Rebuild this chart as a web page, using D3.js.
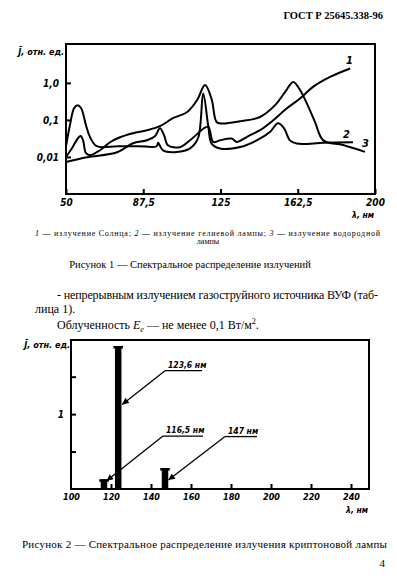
<!DOCTYPE html>
<html><head><meta charset="utf-8">
<script src="https://cdn.jsdelivr.net/npm/d3@7"></script>
<style>body{margin:0;background:#fff}svg{display:block}</style>
</head><body>
<svg id="c" width="397" height="587"></svg>
<script>
// ---------- Figure 1 data (wavelength nm, relative intensity) ----------
const sunNm  = [50, 60.2, 74.8, 82.5, 89.3, 93.2, 95.6, 97.6, 99.5, 105.3, 110.2, 114.1, 116.7, 119.1, 121.5, 124.8, 130.4, 132.9, 138.3, 144.2, 150.6, 157.1, 163.6, 169.9, 178.2, 187.9];
const sunVal = [0.0073, 0.0098, 0.0134, 0.0234, 0.0282, 0.0362, 0.0597, 0.0386, 0.0207, 0.0183, 0.0282, 0.0437, 0.0586, 0.0648, 0.0254, 0.0282, 0.0314, 0.0254, 0.036, 0.0527, 0.098, 0.203, 0.378, 0.78, 1.45, 2.45];
const heNm   = [50, 51.9, 53.9, 55.5, 57.3, 59.7, 61.7, 64.9, 75, 85, 94, 94.7, 97.1, 103.7, 110.2, 114.1, 116.6, 119.1, 120.7, 124.8, 134.5, 142.6, 149, 152.9, 155.8, 158.7, 162, 175, 189.3];
const heVal  = [0.0195, 0.072, 0.207, 0.25, 0.21, 0.072, 0.034, 0.0195, 0.0195, 0.0195, 0.0195, 0.024, 0.015, 0.0136, 0.017, 0.032, 0.52, 0.065, 0.023, 0.017, 0.0186, 0.028, 0.047, 0.081, 0.06, 0.028, 0.023, 0.024, 0.025];
const hNm    = [50, 52.9, 55.8, 57.1, 58.3, 59.7, 61.7, 66.5, 71.4, 76.2, 82.5, 89.3, 95.6, 101.9, 108.7, 113.6, 117.5, 120.7, 123.1, 125.7, 134.5, 144.2, 151.5, 156.3, 160.3, 163.6, 166.9, 170.9, 174.9, 184.5, 195.1];
const hVal   = [0.01, 0.0172, 0.032, 0.037, 0.028, 0.0126, 0.0111, 0.0152, 0.0249, 0.034, 0.0437, 0.0527, 0.0676, 0.111, 0.161, 0.34, 0.87, 0.36, 0.088, 0.08, 0.092, 0.12, 0.25, 0.56, 1.06, 0.64, 0.28, 0.087, 0.028, 0.021, 0.0137];
const fig1XTicks = [50, 87.5, 125, 162.5, 200];
const fig1XTickLabels = ["50", "87,5", "125", "162,5", "200"];
const fig1YTicks = [1, 0.1, 0.01];
const fig1YTickLabels = ["1,0", "0,1", "0,01"];
const curveNames = ["1", "2", "3"];

// ---------- Figure 2 data ----------
const krNm  = [116.5, 123.6, 147];
const krVal = [0.13, 1.91, 0.28];
const krLabels = ["116,5 нм", "123,6 нм", "147 нм"];
const fig2XTicks = [100, 120, 140, 160, 180, 200, 220, 240];
const fig2YTicks = [0.5, 1, 1.5];
const fig2YTickLabels = ["", "1", ""];

const svg = d3.select("#c");
const axFont = '"Liberation Sans Narrow","DejaVu Sans Condensed","Liberation Sans",sans-serif';
const serif = '"Liberation Serif","DejaVu Serif",serif';

svg.append("text").attr("x", 383).attr("y", 19).attr("text-anchor", "end")
  .attr("font-family", serif).attr("font-weight", "bold").attr("font-size", 10.5)
  .text("ГОСТ Р 25645.338-96");

// ---------- Figure 1 ----------
const x1 = d3.scaleLinear().domain([50, 200]).range([66, 375]);
const y1 = d3.scaleLog().domain([0.001, 11.2]).range([194, 44]);
const g1 = svg.append("g");
g1.append("rect").attr("x", 66).attr("y", 44).attr("width", 309).attr("height", 150)
  .attr("fill", "none").attr("stroke", "#000").attr("stroke-width", 2);

const line1 = d3.line().x(d => x1(d[0])).y(d => y1(d[1])).curve(d3.curveCatmullRom.alpha(0.5));
[[sunNm, sunVal], [heNm, heVal], [hNm, hVal]].forEach(([a, b]) => {
  g1.append("path").attr("d", line1(a.map((v, i) => [v, b[i]])))
    .attr("fill", "none").attr("stroke", "#000").attr("stroke-width", 2).attr("stroke-linejoin", "round");
});
const xa1 = d3.axisBottom(x1).tickValues(fig1XTicks).tickSize(-5).tickFormat((d, i) => fig1XTickLabels[i]).tickPadding(5);
const gx1 = g1.append("g").attr("transform", "translate(0,194)").call(xa1);
gx1.select(".domain").remove();
gx1.selectAll("line").attr("stroke-width", 2);
gx1.selectAll("text").attr("font-family", axFont).attr("font-style", "italic").attr("font-weight", "bold").attr("font-size", 10);
const ya1 = d3.axisLeft(y1).tickValues(fig1YTicks).tickSize(-5).tickFormat((d, i) => fig1YTickLabels[i]).tickPadding(7);
const gy1 = g1.append("g").attr("transform", "translate(66,0)").call(ya1);
gy1.select(".domain").remove();
gy1.selectAll("line").attr("stroke-width", 2);
gy1.selectAll("text").attr("font-family", axFont).attr("font-style", "italic").attr("font-weight", "bold").attr("font-size", 10);
g1.append("text").attr("x", 64).attr("y", 55).attr("text-anchor", "end")
  .attr("font-family", axFont).attr("font-style", "italic").attr("font-weight", "bold").attr("font-size", 9)
  .text("J\u0304, отн. ед.");
g1.append("text").attr("x", 374).attr("y", 218).attr("text-anchor", "end")
  .attr("font-family", axFont).attr("font-style", "italic").attr("font-weight", "bold").attr("font-size", 8.5)
  .text("λ, нм");
const ends = [[sunNm, sunVal, -4, -4], [heNm, heVal, -10, -4], [hNm, hVal, -3, -5]];
ends.forEach(([a, b, dx, dy], i) => {
  const n = a.length - 1;
  g1.append("text").attr("x", x1(a[n]) + dx).attr("y", y1(b[n]) + dy)
    .attr("font-family", axFont).attr("font-style", "italic").attr("font-weight", "bold").attr("font-size", 11)
    .text(curveNames[i]);
});

svg.append("text").attr("x", 35).attr("y", 236).attr("font-family", serif).attr("font-size", 8)
  .attr("textLength", 345).attr("lengthAdjust", "spacing")
  .html('<tspan font-style="italic">1</tspan> — излучение Солнца; <tspan font-style="italic">2</tspan> — излучение гелиевой лампы; <tspan font-style="italic">3</tspan> — излучение водородной');
svg.append("text").attr("x", 208).attr("y", 244).attr("text-anchor", "middle").attr("font-family", serif).attr("font-size", 8).text("лампы");
svg.append("text").attr("x", 190).attr("y", 268).attr("text-anchor", "middle").attr("font-family", serif).attr("font-size", 10.5)
  .text("Рисунок 1 — Спектральное распределение излучений");

svg.append("text").attr("x", 57).attr("y", 299).attr("font-family", serif).attr("font-size", 12)
  .attr("textLength", 321).attr("lengthAdjust", "spacing")
  .text("- непрерывным излучением газоструйного источника ВУФ (таб-");
svg.append("text").attr("x", 35).attr("y", 313).attr("font-family", serif).attr("font-size", 12).text("лица 1).");
svg.append("text").attr("x", 57).attr("y", 329).attr("font-family", serif).attr("font-size", 12)
  .html('Облученность <tspan font-style="italic">E</tspan><tspan font-style="italic" font-size="8" dy="3">e</tspan><tspan dy="-3"> — не менее 0,1 Вт/м</tspan><tspan font-size="8" dy="-5">2</tspan><tspan dy="5">.</tspan>');

// ---------- Figure 2 ----------
const x2 = d3.scaleLinear().domain([100, 249]).range([71, 369]);
const y2 = d3.scaleLinear().domain([0, 1.99]).range([489, 340]);
const g2 = svg.append("g");
g2.append("rect").attr("x", 71).attr("y", 340).attr("width", 298).attr("height", 149)
  .attr("fill", "none").attr("stroke", "#000").attr("stroke-width", 2);
const xa2 = d3.axisBottom(x2).tickValues(fig2XTicks).tickSize(-5).tickFormat(d3.format("d")).tickPadding(5);
const gx2 = g2.append("g").attr("transform", "translate(0,489)").call(xa2);
gx2.select(".domain").remove();
gx2.selectAll("line").attr("stroke-width", 2).filter(d => d === 100).remove();
gx2.selectAll("text").attr("font-family", axFont).attr("font-style", "italic").attr("font-weight", "bold").attr("font-size", 9);
const ya2 = d3.axisLeft(y2).tickValues(fig2YTicks).tickSize(-5).tickFormat((d, i) => fig2YTickLabels[i]).tickPadding(7);
const gy2 = g2.append("g").attr("transform", "translate(71,0)").call(ya2);
gy2.select(".domain").remove();
gy2.selectAll("line").attr("stroke-width", 2);
gy2.selectAll("text").attr("font-family", axFont).attr("font-style", "italic").attr("font-weight", "bold").attr("font-size", 10);
g2.append("text").attr("x", 70).attr("y", 348).attr("text-anchor", "end")
  .attr("font-family", axFont).attr("font-style", "italic").attr("font-weight", "bold").attr("font-size", 9)
  .text("J\u0304, отн. ед.");
g2.append("text").attr("x", 368).attr("y", 513).attr("text-anchor", "end")
  .attr("font-family", axFont).attr("font-style", "italic").attr("font-weight", "bold").attr("font-size", 8.5)
  .text("λ, нм");

const bw = 6.5;
krNm.forEach((nm, i) => {
  g2.append("rect").attr("x", x2(nm) - bw / 2).attr("y", y2(krVal[i])).attr("width", bw).attr("height", y2(0) - y2(krVal[i])).attr("fill", "#000");
  g2.append("rect").attr("x", x2(nm) - bw / 2 - 1.5).attr("y", y2(krVal[i])).attr("width", bw + 3).attr("height", 2.5).attr("fill", "#000");
});

const annLabelNm  = [146, 147, 177];
const annLabelVal = [0.707, 1.58, 0.70];
const annTipNm    = [117.8, 125.6, 148.7];
const annTipVal   = [0.11, 1.13, 0.12];
const annLen = [40, 37, 32];
svg.append("defs").append("marker").attr("id", "ah").attr("viewBox", "0 0 10 10").attr("refX", 10).attr("refY", 5)
  .attr("markerWidth", 7).attr("markerHeight", 5).attr("orient", "auto")
  .append("path").attr("d", "M0,0L10,5L0,10z").attr("fill", "#000");
krLabels.forEach((lab, i) => {
  const lx = x2(annLabelNm[i]), ly = y2(annLabelVal[i]);
  g2.append("line").attr("x1", lx).attr("y1", ly).attr("x2", lx + annLen[i]).attr("y2", ly).attr("stroke", "#000").attr("stroke-width", 1.3);
  g2.append("line").attr("x1", lx).attr("y1", ly).attr("x2", x2(annTipNm[i])).attr("y2", y2(annTipVal[i]))
    .attr("stroke", "#000").attr("stroke-width", 1.3).attr("marker-end", "url(#ah)");
  g2.append("text").attr("x", lx + 3).attr("y", ly - 3)
    .attr("font-family", axFont).attr("font-style", "italic").attr("font-weight", "bold").attr("font-size", 8.5)
    .text(lab);
});

svg.append("text").attr("x", 22).attr("y", 548).attr("font-family", serif).attr("font-size", 11)
  .attr("textLength", 365).attr("lengthAdjust", "spacing")
  .text("Рисунок 2 — Спектральное распределение излучения криптоновой лампы");
svg.append("text").attr("x", 385).attr("y", 567).attr("text-anchor", "end").attr("font-family", serif).attr("font-size", 11).text("4");
</script>
</body></html>
